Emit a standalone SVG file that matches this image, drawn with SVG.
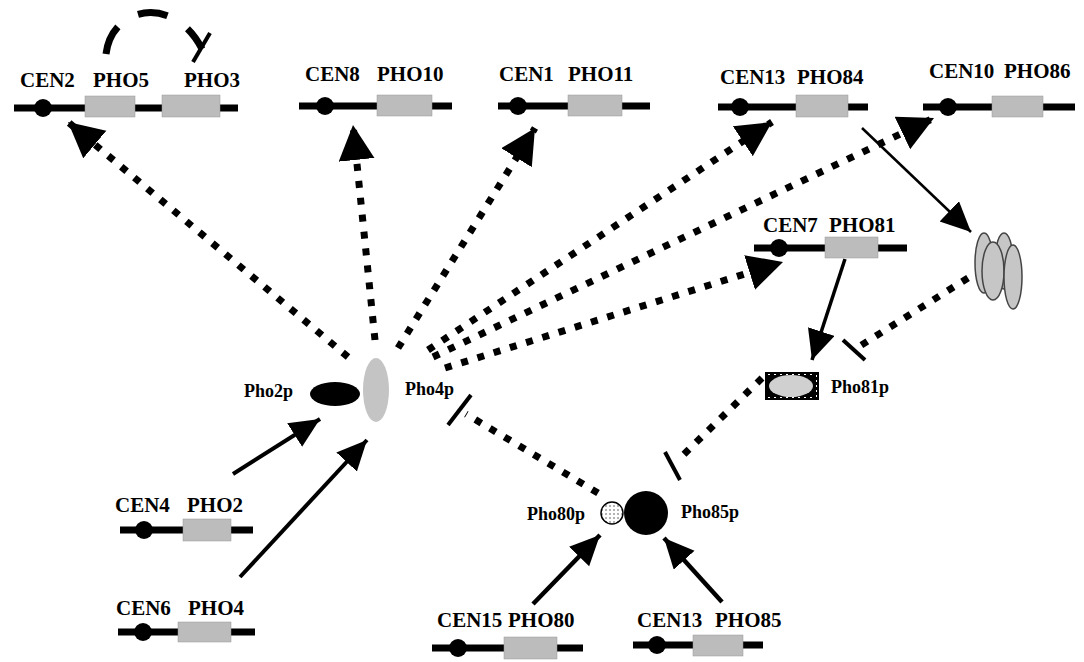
<svg xmlns="http://www.w3.org/2000/svg" width="1084" height="662" viewBox="0 0 1084 662">
<style>
.lbl{font-family:"Liberation Serif","Times New Roman",serif;font-weight:bold;font-size:21px;fill:#000}
.plbl{font-family:"Liberation Serif","Times New Roman",serif;font-weight:bold;font-size:18px;fill:#000}
.chr{stroke:#000;stroke-width:7;fill:none}
.cen{fill:#000}
.gene{fill:#bcbcbc;stroke:#999;stroke-width:0.5}
.dash{stroke:#000;stroke-width:7;stroke-dasharray:7 10;fill:none}
.solid{stroke:#000;fill:none}
.bar{stroke:#000;stroke-width:4;fill:none}
.gel{fill:#c6c6c6;stroke:#444;stroke-width:1.5}
</style>
<defs>
<marker id="bigArrow" markerUnits="userSpaceOnUse" markerWidth="40" markerHeight="40" refX="35" refY="18" orient="auto">
<path d="M0,0 L35,18 L0,36 z" fill="#000"/>
</marker>
<marker id="smArrow" markerUnits="userSpaceOnUse" markerWidth="34" markerHeight="34" refX="30" refY="14" orient="auto">
<path d="M0,0 L30,14 L0,28 z" fill="#000"/>
</marker>
<pattern id="dots" width="4" height="4" patternUnits="userSpaceOnUse">
<rect width="4" height="4" fill="#fff"/>
<circle cx="2" cy="2" r="0.8" fill="#555"/>
</pattern>
</defs>
<rect width="1084" height="662" fill="#fff"/>

<g id="connectors">
<!-- self loop PHO5 -> PHO3 -->
<path d="M106,54 C112,5 175,-5 202,49" stroke="#000" stroke-width="7" fill="none" stroke-dasharray="30 24"/>
<line x1="210" y1="33" x2="193" y2="62" class="bar" stroke-width="6"/>
<!-- dashed activation arrows from Pho4p -->
<line x1="348" y1="357" x2="68" y2="122" class="dash" marker-end="url(#bigArrow)"/>
<line x1="375" y1="340" x2="353" y2="125" class="dash" marker-end="url(#bigArrow)"/>
<line x1="398" y1="348" x2="535" y2="128" class="dash" marker-end="url(#bigArrow)"/>
<line x1="428" y1="350" x2="772" y2="122" class="dash" marker-end="url(#bigArrow)"/>
<line x1="433" y1="357" x2="934" y2="118" class="dash" marker-end="url(#bigArrow)"/>
<line x1="445" y1="368" x2="783" y2="262" class="dash" marker-end="url(#bigArrow)"/>
<!-- dashed inhibition -->
<line x1="598" y1="493" x2="466" y2="414" class="dash"/>
<line x1="448" y1="425" x2="471" y2="395" class="bar"/>
<line x1="762" y1="378" x2="678" y2="460" class="dash"/>
<line x1="665" y1="452" x2="680" y2="480" class="bar"/>
<line x1="968" y1="278" x2="860" y2="346" class="dash"/>
<line x1="843" y1="340" x2="865" y2="360" class="bar"/>
<!-- solid arrows -->
<line x1="233" y1="474" x2="320" y2="419" class="solid" stroke-width="4" marker-end="url(#smArrow)"/>
<line x1="240" y1="577" x2="367" y2="440" class="solid" stroke-width="4" marker-end="url(#smArrow)"/>
<line x1="533" y1="604" x2="600" y2="535" class="solid" stroke-width="4.5" marker-end="url(#smArrow)"/>
<line x1="722" y1="602" x2="664" y2="538" class="solid" stroke-width="4.5" marker-end="url(#smArrow)"/>
<line x1="845" y1="259" x2="812" y2="360" class="solid" stroke-width="3.5" marker-end="url(#smArrow)"/>
<line x1="862" y1="128" x2="971" y2="232" class="solid" stroke-width="2.5" marker-end="url(#smArrow)"/>
</g>

<g id="chr-CEN2">
<line x1="14" y1="108" x2="238" y2="108" class="chr"/>
<circle cx="43" cy="108" r="9" class="cen"/>
<rect x="85" y="96" width="50" height="21" class="gene"/>
<rect x="162" y="95" width="58" height="22" class="gene"/>
<text x="20" y="87" class="lbl">CEN2</text>
<text x="93" y="87" class="lbl">PHO5</text>
<text x="184" y="87" class="lbl">PHO3</text>
</g>
<g id="chr-CEN8">
<line x1="299" y1="106" x2="452" y2="106" class="chr"/>
<circle cx="325" cy="106" r="9" class="cen"/>
<rect x="377" y="95" width="55" height="21" class="gene"/>
<text x="305" y="81" class="lbl">CEN8</text>
<text x="377" y="81" class="lbl">PHO10</text>
</g>
<g id="chr-CEN1">
<line x1="498" y1="106" x2="650" y2="106" class="chr"/>
<circle cx="518" cy="106" r="9" class="cen"/>
<rect x="568" y="95" width="54" height="21" class="gene"/>
<text x="499" y="81" class="lbl">CEN1</text>
<text x="568" y="81" class="lbl">PHO11</text>
</g>
<g id="chr-CEN13a">
<line x1="718" y1="107" x2="868" y2="107" class="chr"/>
<circle cx="740" cy="107" r="9" class="cen"/>
<rect x="796" y="95" width="52" height="22" class="gene"/>
<text x="720" y="84" class="lbl">CEN13</text>
<text x="797" y="84" class="lbl">PHO84</text>
</g>
<g id="chr-CEN10">
<line x1="923" y1="107" x2="1075" y2="107" class="chr"/>
<circle cx="948" cy="107" r="9" class="cen"/>
<rect x="992" y="96" width="51" height="21" class="gene"/>
<text x="929" y="78" class="lbl">CEN10</text>
<text x="1004" y="78" class="lbl">PHO86</text>
</g>
<g id="chr-CEN7">
<line x1="754" y1="248" x2="907" y2="248" class="chr"/>
<circle cx="779" cy="248" r="9" class="cen"/>
<rect x="825" y="237" width="53" height="21" class="gene"/>
<text x="763" y="232" class="lbl">CEN7</text>
<text x="829" y="232" class="lbl">PHO81</text>
</g>
<g id="chr-CEN4">
<line x1="120" y1="530" x2="253" y2="530" class="chr"/>
<circle cx="144" cy="530" r="9" class="cen"/>
<rect x="183" y="519" width="48" height="22" class="gene"/>
<text x="115" y="512" class="lbl">CEN4</text>
<text x="187" y="512" class="lbl">PHO2</text>
</g>
<g id="chr-CEN6">
<line x1="118" y1="632" x2="255" y2="632" class="chr"/>
<circle cx="143" cy="632" r="9" class="cen"/>
<rect x="178" y="622" width="53" height="20" class="gene"/>
<text x="116" y="615" class="lbl">CEN6</text>
<text x="188" y="615" class="lbl">PHO4</text>
</g>
<g id="chr-CEN15">
<line x1="432" y1="648" x2="583" y2="648" class="chr"/>
<circle cx="458" cy="648" r="9" class="cen"/>
<rect x="504" y="637" width="53" height="22" class="gene"/>
<text x="437" y="627" class="lbl">CEN15</text>
<text x="508" y="627" class="lbl">PHO80</text>
</g>
<g id="chr-CEN13b">
<line x1="633" y1="645" x2="763" y2="645" class="chr"/>
<circle cx="657" cy="645" r="9" class="cen"/>
<rect x="693" y="635" width="50" height="21" class="gene"/>
<text x="637" y="627" class="lbl">CEN13</text>
<text x="715" y="627" class="lbl">PHO85</text>
</g>

<g id="Pho2p">
<ellipse cx="335" cy="394" rx="25" ry="12" fill="#000"/>
<text x="244" y="397" class="plbl">Pho2p</text>
</g>
<g id="Pho4p">
<ellipse cx="376" cy="390" rx="13" ry="32" fill="#c4c4c4"/>
<text x="405" y="395" class="plbl">Pho4p</text>
</g>
<g id="Pho80p">
<circle cx="612" cy="513" r="11" fill="url(#dots)" stroke="#000" stroke-width="1.5"/>
<text x="527" y="520" class="plbl">Pho80p</text>
</g>
<g id="Pho85p">
<circle cx="646" cy="513" r="22" fill="#000"/>
<text x="681" y="518" class="plbl">Pho85p</text>
</g>
<g id="Pho81p">
<rect x="765" y="372" width="54" height="28" fill="#000"/>
<line x1="768" y1="374.5" x2="816" y2="374.5" stroke="#fff" stroke-width="1" stroke-dasharray="2 4"/>
<line x1="768" y1="397.5" x2="816" y2="397.5" stroke="#fff" stroke-width="1" stroke-dasharray="2 4"/>
<line x1="816.5" y1="375" x2="816.5" y2="397" stroke="#fff" stroke-width="1" stroke-dasharray="2 3"/>
<ellipse cx="791" cy="386" rx="22" ry="11" fill="#d0d0d0"/>
<text x="831" y="393" class="plbl" font-size="20">Pho81p</text>
</g>
<g id="complex">
<ellipse cx="984" cy="263" rx="9" ry="30" class="gel"/>
<ellipse cx="1004" cy="261" rx="9" ry="28" class="gel"/>
<ellipse cx="993" cy="271" rx="11" ry="29" class="gel"/>
<ellipse cx="1013" cy="277" rx="9" ry="32" class="gel"/>
</g>
</svg>
